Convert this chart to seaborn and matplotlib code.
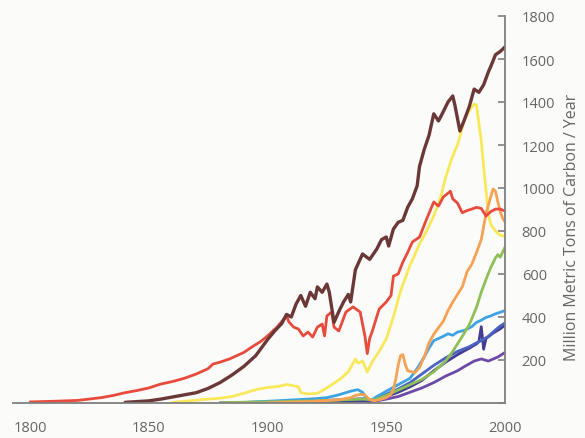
import numpy as np
import pandas as pd
import matplotlib
matplotlib.use("Agg")
import matplotlib.pyplot as plt
import seaborn as sns

# ---------- data ----------
brown_years = [1840, 1850, 1855, 1860, 1865, 1870, 1875, 1880, 1885, 1890, 1895, 1900,
               1903, 1906, 1908, 1910, 1912, 1914, 1916, 1918, 1920, 1921, 1923, 1925,
               1926, 1928, 1930, 1932, 1934, 1935, 1937, 1940, 1943, 1946, 1948, 1950,
               1951, 1953, 1955, 1957, 1959, 1961, 1963, 1964, 1966, 1968, 1970, 1972,
               1974, 1976, 1978, 1979, 1981, 1983, 1985, 1987, 1989, 1991, 1993, 1994,
               1996, 1998, 2000]
brown_vals = [3, 10, 18, 28, 38, 48, 68, 95, 130, 170, 220, 295,
              335, 370, 412, 400, 460, 500, 450, 515, 485, 540, 515, 553,
              515, 375, 425, 470, 505, 470, 620, 693, 668, 716, 760, 772,
              730, 809, 840, 850, 910, 950, 1010, 1100, 1180, 1245, 1345, 1312,
              1355, 1400, 1428, 1380, 1265, 1320, 1380, 1460, 1445, 1480, 1540, 1565,
              1620, 1635, 1656]

red_years = [1800, 1810, 1820, 1830, 1835, 1840, 1845, 1850, 1855, 1860, 1865, 1870,
             1875, 1877, 1880, 1884, 1887, 1890, 1894, 1897, 1900, 1904, 1908, 1909,
             1911, 1913, 1915, 1917, 1919, 1921, 1923, 1924, 1925, 1927, 1928, 1930,
             1933, 1936, 1939, 1941, 1942, 1943, 1944, 1947, 1950, 1952, 1953, 1955,
             1957, 1959, 1961, 1964, 1967, 1970, 1972, 1974, 1977, 1978, 1980, 1982,
             1984, 1986, 1988, 1990, 1992, 1994, 1996, 1998, 2000]
red_vals = [5, 8, 12, 25, 35, 48, 58, 70, 88, 100, 115, 135,
            160, 181, 190, 205, 220, 235, 265, 285, 312, 353, 405, 377,
            353, 344, 312, 330, 307, 353, 367, 312, 405, 423, 353, 335,
            423, 447, 423, 312, 230, 300, 330, 437, 470, 500, 590, 600,
            656, 700, 749, 772, 856, 935, 916, 958, 985, 949, 930, 885,
            895, 902, 910, 905, 870, 890, 902, 902, 893]

yellow_years = [1860, 1865, 1870, 1875, 1880, 1885, 1890, 1895, 1900, 1905, 1908, 1911,
                1913, 1914, 1917, 1921, 1925, 1928, 1931, 1934, 1937, 1938, 1940, 1942,
                1944, 1947, 1950, 1953, 1956, 1960, 1964, 1967, 1970, 1973, 1975, 1978,
                1980, 1983, 1985, 1987, 1988, 1989, 1990, 1991, 1992, 1993, 1994, 1996,
                1998, 2000]
yellow_vals = [3, 8, 13, 18, 22, 30, 45, 62, 72, 78, 86, 80,
               75, 48, 42, 45, 70, 92, 115, 145, 205, 185, 195, 144,
               190, 240, 298, 400, 520, 640, 740, 800, 870, 960, 1050, 1150,
               1200, 1320, 1360, 1390, 1385, 1300, 1220, 1100, 990, 880, 830, 800,
               780, 775]

orange_years = [1900, 1910, 1920, 1930, 1935, 1937, 1939, 1941, 1943, 1945, 1948, 1950,
                1952, 1953, 1954, 1955, 1956, 1957, 1958, 1959, 1961, 1962, 1964, 1966,
                1968, 1970, 1972, 1974, 1976, 1978, 1980, 1982, 1984, 1986, 1988, 1990,
                1992, 1994, 1995, 1996, 1997, 1998, 1999, 2000]
orange_vals = [1, 4, 8, 15, 25, 35, 40, 38, 15, 10, 18, 25,
               40, 65, 110, 175, 220, 225, 180, 150, 145, 140, 165, 215,
               280, 320, 350, 380, 430, 470, 505, 540, 610, 645, 700, 760,
               880, 960, 995, 985, 935, 890, 860, 842]

green_years = [1880, 1900, 1920, 1940, 1945, 1950, 1955, 1960, 1965, 1970, 1975, 1978,
               1980, 1982, 1985, 1988, 1990, 1992, 1994, 1996, 1997, 1998, 2000]
green_vals = [2, 5, 10, 18, 15, 35, 60, 85, 110, 145, 195, 240,
              275, 310, 365, 445, 515, 575, 630, 675, 690, 678, 725]

ltblue_years = [1890, 1900, 1910, 1920, 1925, 1930, 1935, 1938, 1940, 1942, 1944, 1946,
                1948, 1950, 1955, 1960, 1963, 1966, 1968, 1970, 1972, 1974, 1976, 1978,
                1980, 1983, 1986, 1988, 1990, 1992, 1994, 1996, 1998, 2000]
ltblue_vals = [2, 8, 14, 20, 25, 38, 55, 62, 50, 18, 15, 30,
               42, 55, 85, 115, 160, 215, 255, 290, 300, 310, 322, 315,
               330, 338, 355, 375, 385, 398, 405, 415, 422, 430]

blue_years = [1880, 1900, 1920, 1930, 1940, 1945, 1950, 1955, 1960, 1965, 1970, 1975,
              1980, 1985, 1988, 1990, 1993, 1996, 1998, 2000]
blue_vals = [1, 5, 10, 15, 20, 15, 40, 65, 95, 135, 175, 210,
             240, 262, 280, 290, 310, 340, 358, 372]

indigo_years = [1900, 1930, 1945, 1950, 1955, 1960, 1965, 1970, 1975, 1980, 1985, 1988,
                1989, 1990, 1991, 1992, 1995, 1998, 2000]
indigo_vals = [3, 10, 10, 30, 50, 75, 105, 150, 190, 225, 255, 275,
               285, 355, 250, 300, 325, 345, 362]

purple_years = [1900, 1930, 1945, 1950, 1955, 1960, 1965, 1970, 1975, 1980, 1983, 1987,
                1990, 1993, 1997, 2000]
purple_vals = [2, 8, 8, 18, 30, 50, 70, 95, 125, 150, 170, 195,
               205, 195, 214, 235]

series = [
    ("purple", purple_years, purple_vals, "#6d4aa8", 2.0),
    ("indigo", indigo_years, indigo_vals, "#433c92", 2.0),
    ("blue", blue_years, blue_vals, "#4a62c0", 2.0),
    ("ltblue", ltblue_years, ltblue_vals, "#3fa3e3", 2.0),
    ("green", green_years, green_vals, "#8fc057", 2.0),
    ("yellow", yellow_years, yellow_vals, "#f9e95a", 2.0),
    ("orange", orange_years, orange_vals, "#f5a255", 2.0),
    ("red", red_years, red_vals, "#e84a3c", 2.0),
    ("brown", brown_years, brown_vals, "#6b3838", 2.4),
]

frames = []
for name, yrs, vals, _, _ in series:
    frames.append(pd.DataFrame({"year": yrs, "value": vals, "series": name}))
df = pd.concat(frames, ignore_index=True)

# ---------- plot ----------
sns.set_theme(style="white")
plt.rcParams["font.family"] = ["Open Sans", "DejaVu Sans"]

bg = "#fbfbf9"
grey = "#808080"
txt = "#666666"

fig = plt.figure(figsize=(5.85, 4.39), dpi=100, facecolor=bg)
ax = fig.add_axes([13 / 585, 35 / 439, 492 / 585, 387 / 439], facecolor=bg)

for name, _, _, color, lw in series:
    sns.lineplot(data=df[df["series"] == name], x="year", y="value",
                 color=color, linewidth=lw, ax=ax, estimator=None)

ax.set_xlim(1792.8, 2000)
ax.set_ylim(0, 1800)

ax.spines["left"].set_visible(False)
ax.spines["top"].set_visible(False)
for s in ["right", "bottom"]:
    ax.spines[s].set_color(grey)
    ax.spines[s].set_linewidth(1.3)

ax.set_xticks([1800, 1850, 1900, 1950, 2000])
ax.yaxis.tick_right()
ax.yaxis.set_label_position("right")
ax.set_yticks(range(0, 1801, 200))
ax.set_yticklabels([""] + [str(v) for v in range(200, 1801, 200)])

ax.tick_params(axis="x", direction="out", length=8, width=1.2, color=grey,
               labelcolor=txt, labelsize=10.5, pad=4)
ax.tick_params(axis="y", direction="in", length=5, width=1.2, color=grey,
               labelcolor=txt, labelsize=10.5, pad=12, right=True, left=False)

ax.set_xlabel("")
ax.set_ylabel("Million Metric Tons of Carbon / Year", color=txt, fontsize=11.5,
              rotation=90, va="center")
ax.yaxis.set_label_coords(1.136, 0.457)

fig.savefig("out.png", dpi=100, facecolor=bg)
